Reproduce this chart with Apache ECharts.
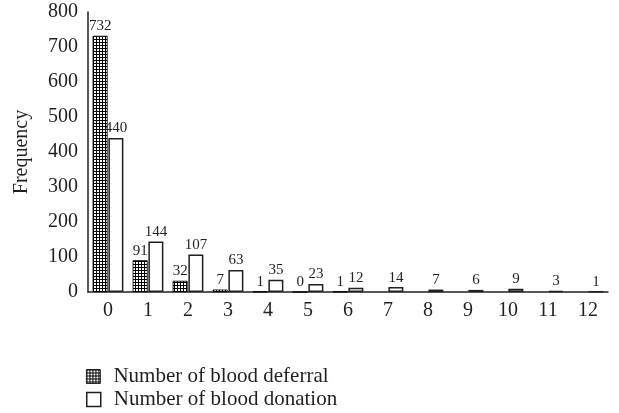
<!DOCTYPE html>
<html>
<head>
<meta charset="utf-8">
<script src="https://cdn.jsdelivr.net/npm/echarts@6/dist/echarts.min.js"></script>
<style>
  html, body { margin: 0; padding: 0; background: #fff; }
  #main { width: 619px; height: 413px; }
</style>
</head>
<body>
<div id="main"></div>
<script>
const categories = ['0', '1', '2', '3', '4', '5', '6', '7', '8', '9', '10', '11', '12']
const deferral = [732, 91, 32, 7, 1, 0, 1, null, null, null, null, null, null]
const donation = [440, 144, 107, 63, 35, 23, 12, 14, 7, 6, 9, 3, 1]
const yTicks = [0, 100, 200, 300, 400, 500, 600, 700, 800]

const ink = '#231f20'
const font = '"Liberation Serif", "DejaVu Serif", serif'

// checker pattern for the deferral bars
const makePattern = () => {
  const c = document.createElement('canvas')
  c.width = 3
  c.height = 3
  const ctx = c.getContext('2d')
  ctx.fillStyle = '#000'
  ctx.fillRect(0, 0, 3, 3)
  ctx.fillStyle = '#fff'
  ctx.fillRect(1, 1, 2, 2)
  return c
}
const pattern = { image: makePattern(), repeat: 'repeat' }

const legendText = { fontFamily: font, fontSize: 21, color: ink, padding: [0, 0, 0, 8] }

const chart = echarts.init(document.getElementById('main'))
chart.setOption({
  animation: false,
  textStyle: { fontFamily: font, color: ink },
  grid: { left: 88, right: 11, top: 12, bottom: 121, containLabel: false },
  legend: [
    {
      left: 81,
      top: 361,
      itemWidth: 14,
      itemHeight: 14,
      textStyle: legendText,
      data: [{ name: 'Number of blood deferral', icon: 'rect', itemStyle: { color: pattern, borderColor: '#000', borderWidth: 0.8 } }]
    },
    {
      left: 81,
      top: 384,
      itemWidth: 14,
      itemHeight: 14,
      textStyle: legendText,
      data: [{ name: 'Number of blood donation', icon: 'rect', itemStyle: { color: '#fff', borderColor: ink, borderWidth: 1.5 } }]
    }
  ],
  xAxis: {
    type: 'category',
    data: categories,
    axisLine: { lineStyle: { color: ink, width: 1.5 } },
    axisTick: { show: false },
    axisLabel: { fontFamily: font, fontSize: 20, color: ink, margin: 9 }
  },
  yAxis: {
    type: 'value',
    min: 0,
    max: yTicks[yTicks.length - 1],
    interval: 100,
    name: 'Frequency',
    nameLocation: 'middle',
    nameGap: 56,
    nameTextStyle: { fontFamily: font, fontSize: 20, color: ink },
    axisLine: { show: true, lineStyle: { color: ink, width: 1.5 } },
    axisTick: { show: false },
    splitLine: { show: false },
    axisLabel: { fontFamily: font, fontSize: 20, color: ink, margin: 10 }
  },
  series: [
    {
      name: 'Number of blood deferral',
      type: 'bar',
      data: deferral,
      barWidth: 15,
      barGap: '5%',
      itemStyle: { color: pattern, borderColor: '#000', borderWidth: 0.8 },
      label: { show: true, position: 'top', distance: 2, fontFamily: font, fontSize: 15, color: ink }
    },
    {
      name: 'Number of blood donation',
      type: 'bar',
      data: donation,
      barWidth: 15,
      itemStyle: { color: '#fff', borderColor: ink, borderWidth: 1.5 },
      label: { show: true, position: 'top', distance: 2, fontFamily: font, fontSize: 15, color: ink }
    }
  ]
})
</script>
</body>
</html>
